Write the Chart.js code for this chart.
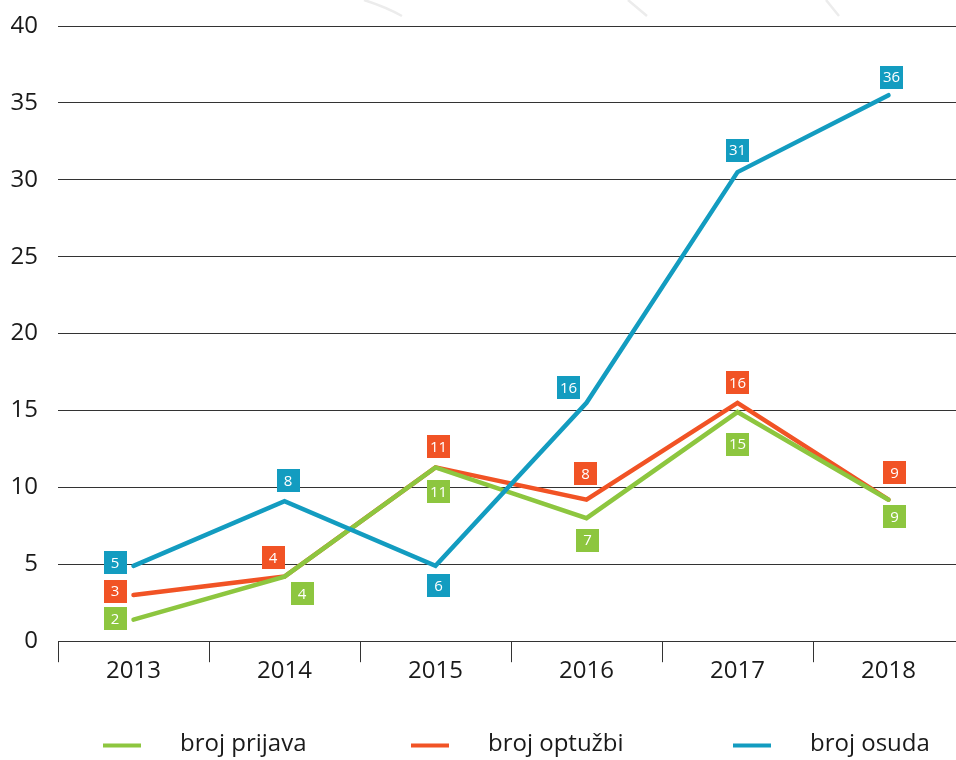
<!DOCTYPE html>
<html>
<head>
<meta charset="utf-8">
<script src="https://cdn.jsdelivr.net/npm/chart.js@4.4.1/dist/chart.umd.min.js"></script>
<style>
  html, body { margin: 0; padding: 0; background: #fff; overflow: hidden; }
  #wrap { width: 970px; height: 760px; }
</style>
</head>
<body>
<div id="wrap"><canvas id="line-chart" width="970" height="760"></canvas></div>
<script>
  var years = ['2013', '2014', '2015', '2016', '2017', '2018'];

  // plotted positions (as drawn in the picture)
  var prijavaValues = [1.4, 4.2, 11.3, 8.0, 14.9, 9.2];
  var optuzbiValues = [3.0, 4.2, 11.3, 9.2, 15.5, 9.2];
  var osudaValues   = [4.9, 9.1, 4.9, 15.5, 30.5, 35.5];

  // numbers printed in the little boxes
  var prijavaLabels = [2, 4, 11, 7, 15, 9];
  var optuzbiLabels = [3, 4, 11, 8, 16, 9];
  var osudaLabels   = [5, 8, 6, 16, 31, 36];

  var seriesNames = ['broj prijava', 'broj optužbi', 'broj osuda'];

  var GREEN = '#8dc63f';
  var ORANGE = '#f15325';
  var BLUE = '#139cc0';
  var FONT = '"Open Sans", "Noto Sans", sans-serif';

  // faint decorative strokes at the top of the picture
  var backdrop = {
    id: 'backdrop',
    beforeDraw: function (chart) {
      var ctx = chart.ctx;
      ctx.save();
      ctx.strokeStyle = '#ececec';
      ctx.lineWidth = 2.5;
      ctx.beginPath();
      ctx.moveTo(364, 0); ctx.quadraticCurveTo(386, 7, 402, 16);
      ctx.moveTo(628, 0); ctx.lineTo(647, 16);
      ctx.moveTo(826, 0); ctx.lineTo(839, 16);
      ctx.stroke();
      ctx.restore();
    }
  };

  var valueBoxes = {
    id: 'valueBoxes',
    afterDatasetsDraw: function (chart) {
      var ctx = chart.ctx;
      ctx.save();
      ctx.font = '15px ' + FONT;
      ctx.textAlign = 'center';
      ctx.textBaseline = 'middle';
      chart.data.datasets.forEach(function (ds, i) {
        var meta = chart.getDatasetMeta(i);
        meta.data.forEach(function (pt, j) {
          var off = ds.boxOffsets[j];
          var cx = pt.x + off[0];
          var cy = pt.y + off[1];
          ctx.fillStyle = ds.borderColor;
          ctx.fillRect(Math.round(cx - 11.5), Math.round(cy - 11.5), 23, 23);
          ctx.fillStyle = '#ffffff';
          ctx.fillText(String(ds.boxLabels[j]), cx, cy + 1);
        });
      });
      ctx.restore();
    }
  };

  var bottomLegend = {
    id: 'bottomLegend',
    afterDraw: function (chart) {
      var ctx = chart.ctx;
      var xs = [103, 411, 733];
      var y = 745.5;
      ctx.save();
      ctx.font = '24px ' + FONT;
      ctx.textBaseline = 'middle';
      ctx.textAlign = 'left';
      chart.data.datasets.forEach(function (ds, i) {
        ctx.strokeStyle = ds.borderColor;
        ctx.lineWidth = 4;
        ctx.beginPath();
        ctx.moveTo(xs[i], y);
        ctx.lineTo(xs[i] + 38, y);
        ctx.stroke();
        ctx.fillStyle = '#1a1a1a';
        ctx.fillText(ds.label, xs[i] + 77, y - 1);
      });
      ctx.restore();
    }
  };

  function lineSet(label, values, labels, color, order, offsets) {
    return {
      label: label,
      data: values,
      boxLabels: labels,
      boxOffsets: offsets,
      borderColor: color,
      backgroundColor: color,
      borderWidth: 4.5,
      borderCapStyle: 'round',
      borderJoinStyle: 'miter',
      pointRadius: 0,
      tension: 0,
      fill: false,
      order: order
    };
  }

  var chartContext = document.getElementById('line-chart');
  var chart = new Chart(chartContext, {
    type: 'line',
    data: {
      labels: years,
      datasets: [
        lineSet(seriesNames[0], prijavaValues, prijavaLabels, GREEN, 1,
          [[-18.5, -1], [17.5, 17], [3, 24], [1, 22], [0, 32], [6, 17]]),
        lineSet(seriesNames[1], optuzbiValues, optuzbiLabels, ORANGE, 2,
          [[-18.5, -4], [-11.5, -19], [3, -21], [-1, -26], [0, -20], [6, -27]]),
        lineSet(seriesNames[2], osudaValues, osudaLabels, BLUE, 0,
          [[-18.5, -3], [3.5, -21], [3, 20], [-18, -15], [0, -22], [3, -18]])
      ]
    },
    options: {
      responsive: false,
      animation: false,
      devicePixelRatio: 1,
      layout: { padding: { top: 26, right: 6, bottom: 79, left: 0 } },
      plugins: {
        legend: { display: false },
        tooltip: { enabled: false }
      },
      events: [],
      scales: {
        x: {
          offset: true,
          grid: {
            offset: true,
            drawOnChartArea: false,
            drawTicks: true,
            tickLength: 21,
            color: '#333333',
            lineWidth: 1
          },
          border: { display: true, color: '#333333', width: 1 },
          ticks: {
            padding: -5,
            color: '#1a1a1a',
            font: { family: FONT, size: 24 }
          }
        },
        y: {
          min: 0,
          max: 40,
          afterFit: function (scale) {
            scale.width = 58;
            scale.paddingTop = 0;
            scale.paddingBottom = 0;
          },
          ticks: {
            stepSize: 5,
            padding: 20,
            color: '#1a1a1a',
            font: { family: FONT, size: 24 }
          },
          grid: {
            drawTicks: false,
            color: '#333333',
            lineWidth: 1
          },
          border: { display: false }
        }
      }
    },
    plugins: [backdrop, valueBoxes, bottomLegend]
  });
</script>
</body>
</html>
